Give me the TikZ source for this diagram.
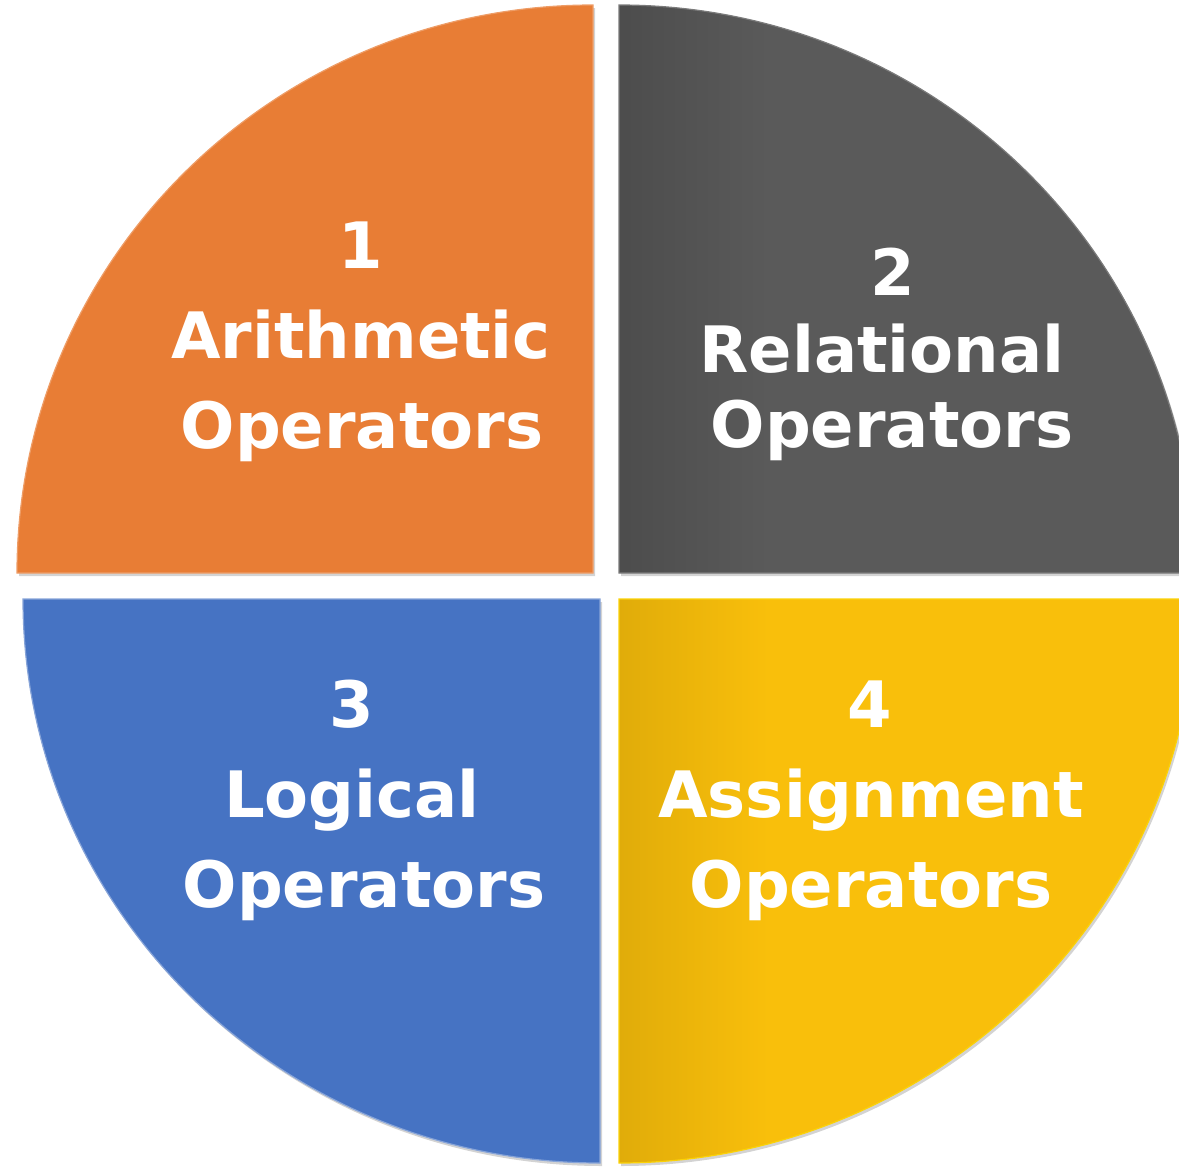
\documentclass[tikz,border=0pt]{standalone}
\usepackage{fontspec}
\setmainfont{DejaVu Sans}
\usetikzlibrary{shadows}

\definecolor{arithcol}{HTML}{E87D35}
\definecolor{relcol}{HTML}{5A5A5A}
\definecolor{logcol}{HTML}{4673C3}
\definecolor{asgcol}{HTML}{F9BF0B}

% darker only near the left straight edge (path spans 25bp..75bp)
\pgfdeclarehorizontalshading{relshade}{100bp}{color(0bp)=(relcol!85!black); color(25bp)=(relcol!85!black); color(38bp)=(relcol); color(100bp)=(relcol)}
\pgfdeclarehorizontalshading{asgshade}{100bp}{color(0bp)=(asgcol!90!black); color(25bp)=(asgcol!90!black); color(38bp)=(asgcol); color(100bp)=(asgcol)}

\tikzset{
  quad/.style={drop shadow={shadow xshift=2pt,shadow yshift=-3pt,opacity=.35}},
  lbl/.style={text=white,anchor=base,inner sep=0pt,
    font=\bfseries\fontsize{64}{64}\selectfont},
}

\begin{document}
\begin{tikzpicture}[x=1pt,y=-1pt]
  \useasboundingbox (0,0) rectangle (1179,1167);
  \clip (0,0) rectangle (1179,1167);

  % corners of the four pieces
  \coordinate (c1) at (593,573);
  \coordinate (c2) at (619,573);
  \coordinate (c3) at (600,599);
  \coordinate (c4) at (619,599);

  % quarter discs
  \path[quad,fill=arithcol,draw=arithcol!75!white,line width=1.2pt]
    (c1) -- ++(-576,0) arc[start angle=180,end angle=270,x radius=576,y radius=568] -- cycle;
  \path[quad,shading=relshade,draw=relcol!80!white,line width=1.2pt]
    (c2) -- ++(0,-568) arc[start angle=270,end angle=360,x radius=576,y radius=568] -- cycle;
  \path[quad,fill=logcol,draw=logcol!65!white,line width=1.2pt]
    (c3) -- ++(-577,0) arc[start angle=180,end angle=90,x radius=577,y radius=564] -- cycle;
  \path[quad,shading=asgshade,draw=asgcol!70!yellow,line width=1.2pt]
    (c4) -- ++(576,0) arc[start angle=0,end angle=90,x radius=576,y radius=564] -- cycle;

  % labels, one node per line
  \foreach \n/\x/\y/\t in {
      a1/361/268/1, a2/361/358/Arithmetic, a3/362/448/Operators,
      r1/893/295/2, r2/882/372/Relational, r3/892/447/Operators,
      l1/352/727/3, l2/352/817/Logical, l3/364/907/Operators,
      s1/870/727/4, s2/871/817/Assignment, s3/871/907/Operators}
    \node[lbl] (\n) at (\x,\y) {\t};
\end{tikzpicture}
\end{document}
